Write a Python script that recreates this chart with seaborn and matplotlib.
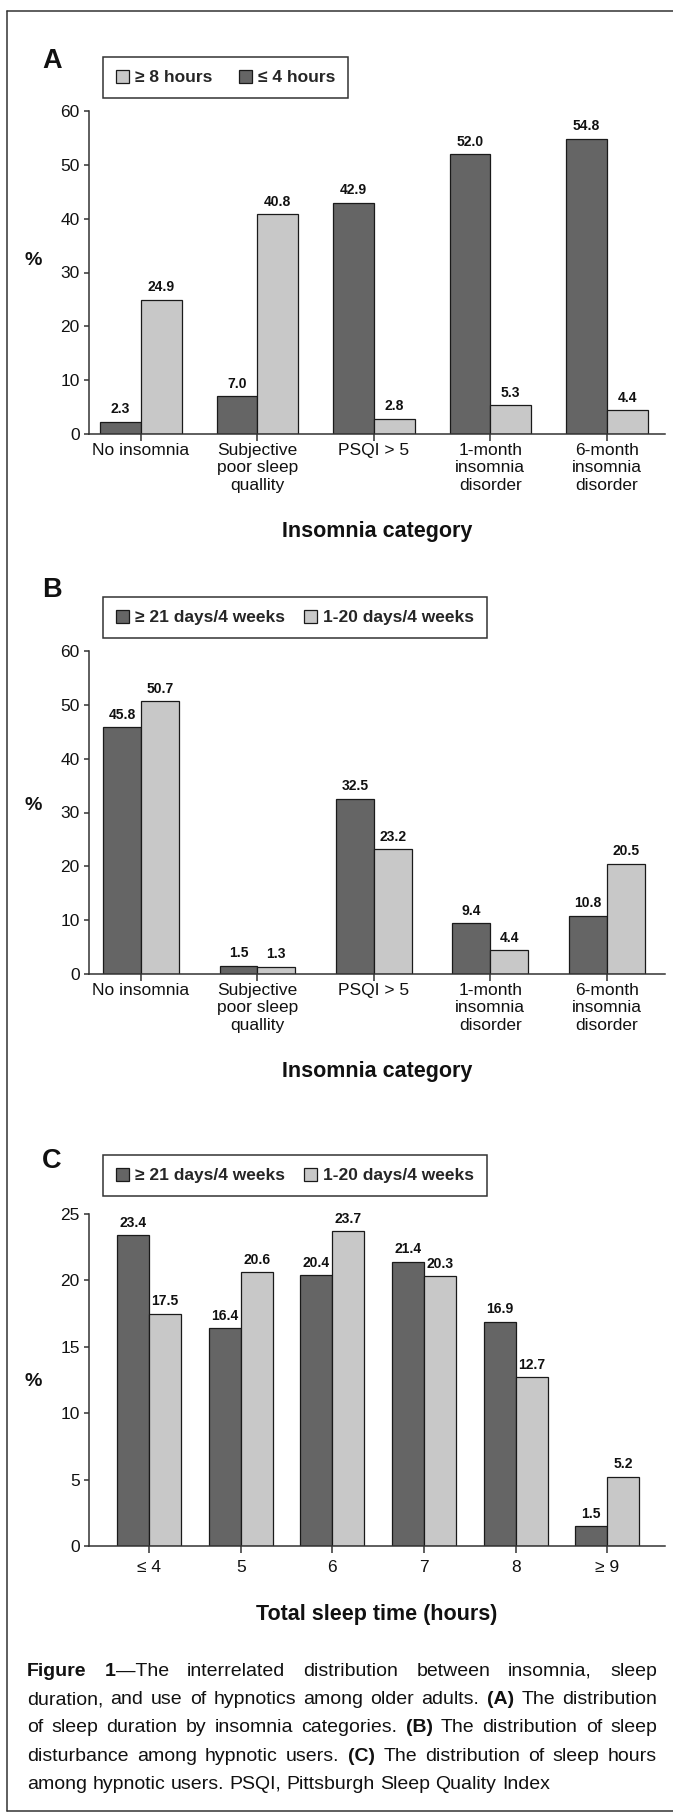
import matplotlib
matplotlib.use("Agg")
import matplotlib.pyplot as plt
from matplotlib.patches import Patch
from matplotlib.lines import Line2D
import pandas as pd
import seaborn as sns

# ---------------- data ----------------
a_categories = ["No insomnia", "Subjective\npoor sleep\nquallity", "PSQI > 5",
                "1-month\ninsomnia\ndisorder", "6-month\ninsomnia\ndisorder"]
a_series = ["≤ 4 hours", "≥ 8 hours"]
a_short_sleep = [2.3, 7.0, 42.9, 52.0, 54.8]
a_long_sleep = [24.9, 40.8, 2.8, 5.3, 4.4]
a_yticks = [0, 10, 20, 30, 40, 50, 60]

b_categories = a_categories
b_series = ["≥ 21 days/4 weeks", "1-20 days/4 weeks"]
b_frequent = [45.8, 1.5, 32.5, 9.4, 10.8]
b_occasional = [50.7, 1.3, 23.2, 4.4, 20.5]
b_yticks = [0, 10, 20, 30, 40, 50, 60]

c_categories = ["≤ 4", "5", "6", "7", "8", "≥ 9"]
c_series = b_series
c_frequent = [23.4, 16.4, 20.4, 21.4, 16.9, 1.5]
c_occasional = [17.5, 20.6, 23.7, 20.3, 12.7, 5.2]
c_yticks = [0, 5, 10, 15, 20, 25]

caption_lines = [
    "**Figure** **1**—The interrelated distribution between insomnia, sleep",
    "duration, and use of hypnotics among older adults. **(A)** The distribution",
    "of sleep duration by insomnia categories. **(B)** The distribution of sleep",
    "disturbance among hypnotic users. **(C)** The distribution of sleep hours",
    "among hypnotic users. PSQI, Pittsburgh Sleep Quality Index",
]

# ---------------- style ----------------
sns.set_style("ticks")
plt.rcParams["font.family"] = ["Liberation Sans", "DejaVu Sans"]
plt.rcParams["axes.edgecolor"] = "#333333"

DARK = "#656565"
LIGHT = "#c8c8c8"
EDGE = "#1a1a1a"
TXT = "#111111"

W, H = 673, 1813
fig = plt.figure(figsize=(W / 100, H / 100), dpi=100)


def fx(px):
    return px / W


def fy(py):
    return 1 - py / H


def long_df(cats, series, vals):
    rows = []
    for s, v in zip(series, vals):
        for c, val in zip(cats, v):
            rows.append({"cat": c, "series": s, "val": val})
    return pd.DataFrame(rows)


def panel(rect, df, cats, series, palette, width, ylim, yticks, xlim,
          legend_order, leg_top, colspace, letter, letter_base, pct_base,
          title, title_base, xpad):
    ax = fig.add_axes(rect)
    sns.barplot(data=df, x="cat", y="val", hue="series", order=cats,
                hue_order=series, palette=palette, width=width, saturation=1,
                edgecolor=EDGE, linewidth=0.9, errorbar=None, legend=False, ax=ax)
    for cont in ax.containers:
        ax.bar_label(cont, fmt="%.1f", padding=4, fontsize=10,
                     fontweight="bold", color=TXT)
    ax.set_ylim(*ylim)
    ax.set_yticks(yticks)
    ax.set_xlim(*xlim)
    ax.set_xlabel("")
    ax.set_ylabel("")
    for s in ["top", "right"]:
        ax.spines[s].set_visible(False)
    for s in ["left", "bottom"]:
        ax.spines[s].set_linewidth(1.1)
        ax.spines[s].set_color("#333333")
    ax.tick_params(axis="x", length=5, width=1.1, pad=xpad, labelsize=12.5,
                   colors="#333333", labelcolor=TXT)
    ax.tick_params(axis="y", length=3.6, width=1.1, pad=3, labelsize=12.5,
                   colors="#333333", labelcolor=TXT)
    handles = [Patch(facecolor=palette[s], edgecolor=EDGE, linewidth=0.9, label=s)
               for s in legend_order]
    leg = ax.legend(handles=handles, loc="upper left",
                    bbox_to_anchor=(fx(103), fy(leg_top)),
                    bbox_transform=fig.transFigure, ncol=2, frameon=True,
                    fancybox=False, edgecolor="#333333", framealpha=1,
                    borderpad=0.75, handlelength=0.75, handleheight=0.75,
                    handletextpad=0.35, columnspacing=colspace, borderaxespad=0,
                    prop={"weight": "bold", "size": 12.5})
    leg.get_frame().set_linewidth(1.1)
    fig.text(fx(52), fy(letter_base), letter, ha="center", va="baseline",
             fontsize=19.5, fontweight="bold", color=TXT)
    fig.text(fx(33), fy(pct_base), "%", ha="center", va="baseline",
             fontsize=14, fontweight="bold", color=TXT)
    x0, x1 = rect[0], rect[0] + rect[2]
    fig.text((x0 + x1) / 2, fy(title_base), title, ha="center", va="baseline",
             fontsize=15.5, fontweight="bold", color=TXT)
    return ax


# Panel A
df_a = long_df(a_categories, a_series, [a_short_sleep, a_long_sleep])
pal_a = {a_series[0]: DARK, a_series[1]: LIGHT}
panel([fx(89), fy(434), 576 / W, 323 / H], df_a, a_categories, a_series, pal_a,
      0.70, (0, 60), a_yticks, (-0.446, 4.5), [a_series[1], a_series[0]], 57, 1.5,
      "A", 68, 265, "Insomnia category", 537, 1.5)

# Panel B
df_b = long_df(b_categories, b_series, [b_frequent, b_occasional])
pal_b = {b_series[0]: DARK, b_series[1]: LIGHT}
panel([fx(89), fy(974), 576 / W, 323 / H], df_b, b_categories, b_series, pal_b,
      0.65, (0, 60), b_yticks, (-0.446, 4.5), b_series, 597, 1.1,
      "B", 597, 810, "Insomnia category", 1077, 1.5)

# Panel C
df_c = long_df(c_categories, c_series, [c_frequent, c_occasional])
pal_c = {c_series[0]: DARK, c_series[1]: LIGHT}
panel([fx(89), fy(1546), 576 / W, 332 / H], df_c, c_categories, c_series, pal_c,
      0.70, (0, 25), c_yticks, (-0.655, 5.63), c_series, 1155, 1.1,
      "C", 1168, 1386, "Total sleep time (hours)", 1620, 5)

# outer frame (open on the right)
for (xa, ya, xb, yb) in [(7, 11, 7, 1811), (7, 11, 673, 11), (7, 1811, 673, 1811)]:
    fig.add_artist(Line2D([fx(xa), fx(xb)], [fy(ya), fy(yb)], color="#333333",
                          linewidth=1.1, transform=fig.transFigure))

# caption with justified lines
renderer = fig.canvas.get_renderer()
CAP_SIZE = 14
cx0, cx1 = 27, 657
base0, dy = 1676, 28.2


def parse_words(line):
    words = []
    bold = False
    for w in line.split(" "):
        parts = w.split("**")
        segs = []
        for k, p in enumerate(parts):
            if k > 0:
                bold = not bold
            if p:
                segs.append((p, bold))
        words.append(segs)
    return words


probe1 = fig.text(0, 0, "a a", fontsize=CAP_SIZE)
probe2 = fig.text(0, 0, "aa", fontsize=CAP_SIZE)
space_w = probe1.get_window_extent(renderer).width - probe2.get_window_extent(renderer).width
probe1.remove()
probe2.remove()

for i, line in enumerate(caption_lines):
    yb = fy(base0 + i * dy)
    words = parse_words(line)
    placed = []
    widths = []
    for segs in words:
        objs = []
        wsum = 0
        for txt, b in segs:
            t = fig.text(0, yb, txt, fontsize=CAP_SIZE, ha="left", va="baseline",
                         fontweight="bold" if b else "normal", color=TXT)
            ww = t.get_window_extent(renderer).width
            objs.append((t, ww))
            wsum += ww
        placed.append(objs)
        widths.append(wsum)
    justify = i < len(caption_lines) - 1
    if justify and len(words) > 1:
        gap = (cx1 - cx0 - sum(widths)) / (len(words) - 1)
    else:
        gap = space_w
    x = cx0
    for objs, wsum in zip(placed, widths):
        xx = x
        for t, ww in objs:
            t.set_x(fx(xx))
            xx += ww
        x += wsum + gap

fig.savefig("out.png", dpi=100)
